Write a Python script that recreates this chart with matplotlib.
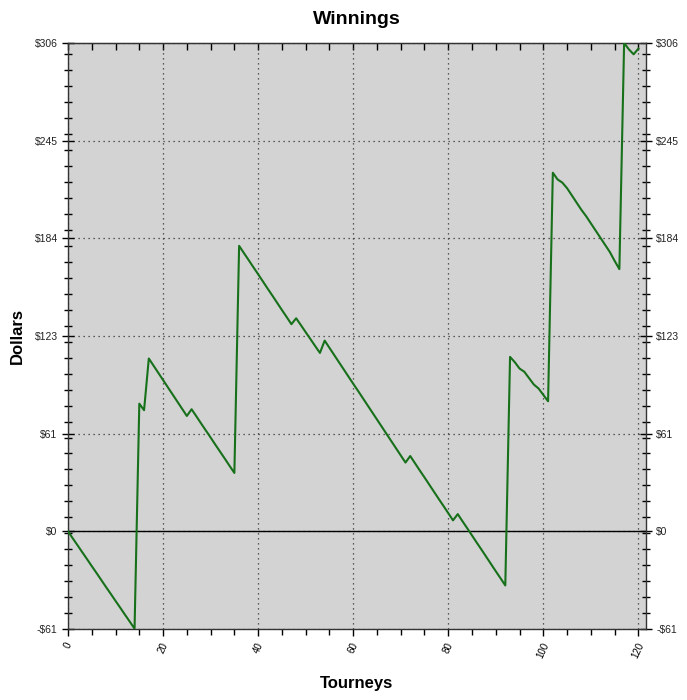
import numpy as np
import matplotlib.pyplot as plt
from matplotlib.ticker import MultipleLocator, FixedLocator

plt.rcParams['font.family'] = ['Liberation Sans', 'DejaVu Sans']

# cumulative winnings per tourney
tourneys = np.arange(0, 121)
winnings = np.array([
    0, -4.4, -8.7, -13.1, -17.4, -21.8, -26.1, -30.5, -34.9, -39.2,
    -43.6, -47.9, -52.3, -56.6, -61.0, 80.0, 75.9, 108.3, 103.8, 99.3,
    94.8, 90.3, 85.8, 81.3, 76.8, 72.3, 76.5, 72.1, 67.6, 63.2,
    58.8, 54.3, 49.9, 45.5, 41.0, 36.6, 178.9, 174.4, 170.0, 165.5,
    161.1, 156.6, 152.1, 147.7, 143.2, 138.7, 134.3, 129.8, 133.5, 129.2,
    124.8, 120.5, 116.1, 111.8, 119.5, 115.0, 110.5, 106.0, 101.5, 97.0,
    92.5, 88.1, 83.6, 79.1, 74.6, 70.1, 65.6, 61.1, 56.6, 52.1,
    47.6, 43.1, 47.2, 42.7, 38.2, 33.8, 29.3, 24.8, 20.3, 15.9,
    11.4, 6.9, 10.8, 6.3, 1.9, -2.6, -7.1, -11.5, -16.0, -20.5,
    -25.0, -29.4, -33.9, 109.3, 106.0, 102.0, 100.0, 96.0, 92.0, 89.5,
    85.5, 81.5, 224.7, 220.5, 218.5, 215.0, 210.5, 206.0, 201.5, 197.5,
    193.0, 188.5, 184.0, 179.5, 175.0, 169.5, 164.3, 306.0, 302.0, 298.9,
    302.5,
])

ytick_vals = [-61.2, 0, 61.2, 122.4, 183.6, 244.8, 306]
ytick_labels = ['-$61', '$0', '$61', '$123', '$184', '$245', '$306']
xtick_vals = [0, 20, 40, 60, 80, 100, 120]

fig = plt.figure(figsize=(6.87, 7.0), dpi=100)
ax = fig.add_axes([0.099, 0.1014, 0.8413, 0.8372])
ax.set_facecolor('#d3d3d3')

ax.plot(tourneys, winnings, color='#17701a', linewidth=1.5, zorder=3)
ax.axhline(0, color='black', linewidth=1, zorder=2)

ax.set_xlim(0, 121.6)
ax.set_ylim(-61.2, 306)

ax.set_xticks(xtick_vals)
ax.set_xticklabels([str(v) for v in xtick_vals], rotation=65, fontsize=7)
ax.xaxis.set_minor_locator(MultipleLocator(5))
ax.set_yticks(ytick_vals)
ax.set_yticklabels(ytick_labels, fontsize=7.5, color='#222222')
ax.yaxis.set_minor_locator(FixedLocator(np.arange(-61.2, 306, 10)))

ax.grid(True, which='major', linestyle=(0, (1, 3)), color='#333333', linewidth=0.9)

ax.tick_params(axis='y', which='major', direction='inout', length=8, width=1,
               left=True, right=True, labelleft=True, labelright=True)
ax.tick_params(axis='y', which='minor', direction='inout', length=6, width=1,
               left=True, right=True)
ax.tick_params(axis='x', which='major', direction='out', length=5, width=1,
               bottom=True, top=False)
ax.tick_params(axis='x', which='minor', direction='out', length=4, width=1,
               bottom=True, top=False)
for lbl in ax.get_xticklabels():
    lbl.set_horizontalalignment('center')

# top ticks point inward
top = ax.secondary_xaxis('top')
top.set_xticks(xtick_vals)
top.xaxis.set_minor_locator(MultipleLocator(5))
top.tick_params(which='both', direction='in', length=5, width=1, labeltop=False)

for s in ax.spines.values():
    s.set_color('#333333')
    s.set_linewidth(1)
top.spines['top'].set_color('#333333')

ax.set_title('Winnings', fontsize=14, fontweight='bold', pad=14)
ax.set_xlabel('Tourneys', fontsize=12, fontweight='bold', labelpad=12)
ax.set_ylabel('Dollars', fontsize=12, fontweight='bold', labelpad=7)

fig.savefig('out.png', dpi=100)
